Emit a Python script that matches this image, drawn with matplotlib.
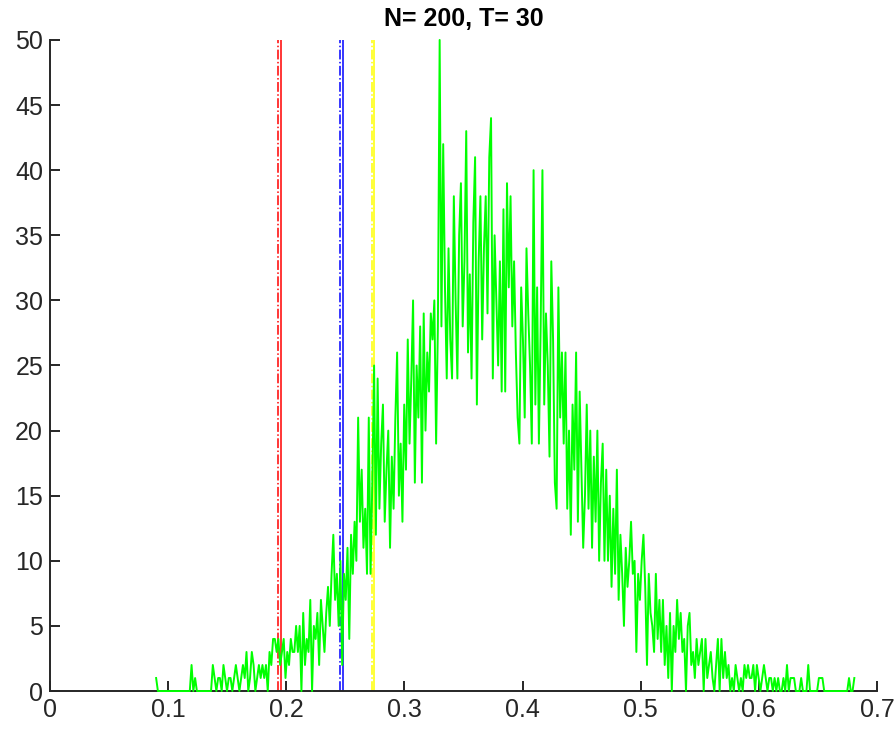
import matplotlib
matplotlib.use("Agg")
import matplotlib.pyplot as plt
import numpy as np

# histogram counts (left tail -> right tail)
bin_start = 0.0898
bin_width = 0.0015
counts = [
    1, 0, 0, 0, 0, 0, 0, 0, 0, 0, 0, 0, 0, 0, 0, 0, 0, 0, 0, 0,
    2, 0, 1, 0, 0, 0, 0, 0, 0, 0, 0, 0, 2, 1, 0, 1, 1, 0, 2, 1,
    0, 1, 1, 0, 1, 2, 1, 0, 1, 2, 1, 3, 0, 1, 3, 2, 0, 1, 2, 1,
    2, 1, 2, 0, 3, 2, 4, 4, 3, 4, 2, 3, 4, 1, 3, 2, 4, 3, 3, 5,
    3, 5, 0, 6, 2, 4, 3, 7, 0, 5, 4, 6, 2, 7, 5, 3, 6, 8, 5, 9,
    12, 7, 9, 5, 10, 2, 9, 7, 11, 4, 12, 9, 13, 10, 21, 13, 17, 11, 14, 9,
    21, 9, 16, 25, 12, 24, 14, 19, 22, 13, 17, 20, 11, 18, 14, 21, 26, 15, 19, 13,
    22, 17, 27, 19, 24, 30, 16, 25, 21, 28, 16, 29, 20, 26, 23, 29, 27, 30, 19, 28,
    50, 28, 42, 31, 24, 34, 27, 24, 38, 30, 24, 35, 39, 28, 33, 43, 26, 32, 24, 36,
    41, 22, 33, 38, 27, 34, 38, 29, 41, 44, 24, 35, 30, 25, 33, 23, 37, 23, 39, 31,
    38, 28, 33, 26, 21, 19, 31, 27, 21, 34, 29, 25, 19, 40, 22, 31, 19, 28, 40, 22,
    29, 25, 18, 33, 27, 16, 14, 31, 21, 26, 19, 26, 14, 20, 12, 22, 17, 26, 13, 23,
    17, 11, 15, 22, 14, 20, 11, 18, 13, 20, 10, 16, 19, 10, 17, 10, 15, 8, 14, 9,
    17, 7, 12, 9, 5, 11, 8, 10, 13, 9, 10, 3, 9, 7, 10, 12, 8, 2, 9, 6,
    5, 3, 9, 4, 7, 3, 7, 2, 5, 1, 6, 0, 5, 3, 7, 4, 6, 3, 4, 0,
    5, 6, 2, 3, 1, 4, 2, 3, 4, 0, 4, 1, 2, 3, 1, 0, 2, 4, 0, 4,
    1, 3, 1, 2, 0, 1, 0, 2, 1, 0, 1, 0, 2, 1, 2, 1, 1, 2, 0, 2,
    1, 0, 1, 2, 1, 0, 1, 1, 0, 1, 0, 1, 0, 0, 1, 0, 2, 0, 1, 1,
    1, 0, 0, 0, 1, 0, 0, 0, 2, 0, 0, 0, 0, 0, 1, 1, 1, 0, 0, 0,
    0, 0, 0, 0, 0, 0, 0, 0, 0, 0, 0, 1, 0, 0, 1,
]

# reference lines: (position, colour, style)
vline_pos = [0.193, 0.1956, 0.2455, 0.248, 0.2726, 0.274]
vline_col = ["#ff0000", "#ff0000", "#0000ff", "#0000ff", "#ffff00", "#ffff00"]
vline_sty = ["-.", "-", "-.", "-", "-.", "-"]

title = "N= 200, T= 30"
xticks = [0, 0.1, 0.2, 0.3, 0.4, 0.5, 0.6, 0.7]
yticks = [0, 5, 10, 15, 20, 25, 30, 35, 40, 45, 50]


def main():
    plt.rcParams["font.family"] = ["Liberation Sans", "DejaVu Sans"]
    fig = plt.figure(figsize=(8.95, 7.36), dpi=100)
    ax = fig.add_axes([0.0559, 0.0611, 0.9240, 0.8846])

    x = bin_start + bin_width * np.arange(len(counts))
    ax.plot(x, counts, color="#00ff00", lw=1.4, zorder=3, clip_on=False)

    for p, c, s in zip(vline_pos, vline_col, vline_sty):
        ax.axvline(p, color=c, ls=s, lw=1.1, zorder=2)

    ax.set_xlim(0, 0.7)
    ax.set_ylim(0, 50)
    ax.set_xticks(xticks)
    ax.set_xticklabels([f"{t:g}" for t in xticks])
    ax.set_yticks(yticks)

    for side in ("top", "right"):
        ax.spines[side].set_visible(False)
    for side in ("left", "bottom"):
        ax.spines[side].set_color("#262626")
        ax.spines[side].set_linewidth(1.4)
    ax.tick_params(direction="in", length=7, width=1.4, color="#262626",
                   labelcolor="#262626", labelsize=18, pad=5)

    ax.set_title(title, fontsize=18, fontweight="bold", color="black", pad=10)
    fig.savefig("out.png")
    plt.close(fig)


if __name__ == "__main__":
    main()
